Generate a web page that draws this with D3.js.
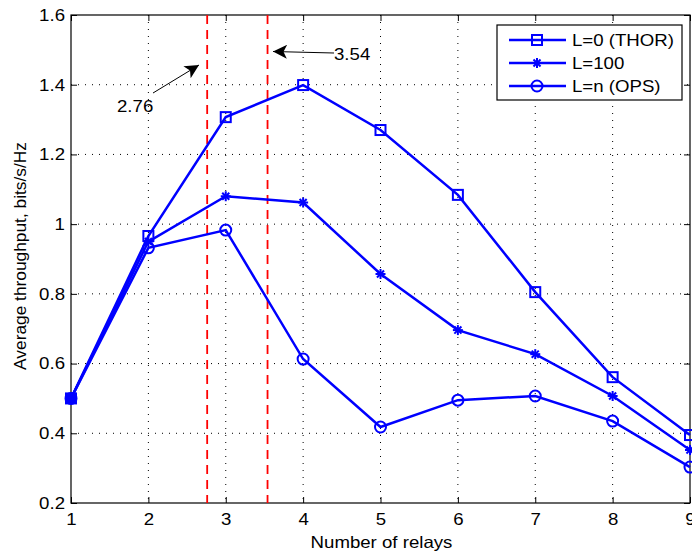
<!DOCTYPE html>
<html><head><meta charset="utf-8">
<script src="https://cdn.jsdelivr.net/npm/d3@7/dist/d3.min.js"></script>
<style>body{margin:0;background:#fff}svg{display:block}text{font-family:"Liberation Sans",Arial,sans-serif}</style>
</head><body>
<svg id="c" width="692" height="554"></svg>
<script>
const relays = [1,2,3,4,5,6,7,8,9];
const thor = [0.5,0.966,1.307,1.399,1.270,1.084,0.805,0.561,0.395];
const l100 = [0.5,0.950,1.080,1.062,0.857,0.696,0.627,0.507,0.352];
const ops  = [0.5,0.932,0.983,0.613,0.418,0.495,0.507,0.435,0.303];
const seriesNames = ["L=0 (THOR)","L=100","L=n (OPS)"];
const markers = ["square","star","circle"];
const xTicks = [1,2,3,4,5,6,7,8,9];
const yTicks = [0.2,0.4,0.6,0.8,1,1.2,1.4,1.6];
const vlines = [2.76,3.54];
const vlineLabels = ["2.76","3.54"];

const FS = 16.5, SX = 1.13;
const svg = d3.select("#c");
const L=71,R=690,T=15,B=503;
const x = d3.scaleLinear().domain([1,9]).range([L,R]);
const y = d3.scaleLinear().domain([0.2,1.6]).range([B,T]);

function stext(parent, tx, ty, str, anchor){
  return parent.append("text").attr("transform",`translate(${tx},${ty}) scale(${SX},1)`)
    .attr("text-anchor",anchor||"start").attr("font-size",FS).attr("fill","#000").text(str);
}

// grid
const g = svg.append("g");
g.selectAll(".gx").data(xTicks.slice(1,-1)).enter().append("line")
 .attr("x1",d=>x(d)).attr("x2",d=>x(d)).attr("y1",T).attr("y2",B)
 .attr("stroke","#000").attr("stroke-width",1).attr("stroke-dasharray","1,6");
g.selectAll(".gy").data(yTicks.slice(1,-1)).enter().append("line")
 .attr("y1",d=>y(d)).attr("y2",d=>y(d)).attr("x1",L).attr("x2",R)
 .attr("stroke","#000").attr("stroke-width",1).attr("stroke-dasharray","1,6");

// axes
const ax = svg.append("g").attr("transform",`translate(0,${B})`).call(d3.axisBottom(x).tickValues(xTicks).tickSize(-6).tickPadding(10).tickFormat(d3.format("d")));
const axT = svg.append("g").attr("transform",`translate(0,${T})`).call(d3.axisTop(x).tickValues(xTicks).tickSize(-6).tickFormat(""));
const ay = svg.append("g").attr("transform",`translate(${L},0)`).call(d3.axisLeft(y).tickValues(yTicks).tickSize(-6).tickPadding(6).tickFormat(d=>d===1?"1":d3.format(".1f")(d)));
const ayR = svg.append("g").attr("transform",`translate(${R},0)`).call(d3.axisRight(y).tickValues(yTicks).tickSize(-6).tickFormat(""));
[ax,axT,ay,ayR].forEach(a=>{a.select(".domain").remove();a.selectAll("line").attr("stroke","#000");a.selectAll("text").attr("font-size",FS).attr("fill","#000");});
ax.selectAll(".tick text").attr("transform",`scale(${SX},1)`);
ay.selectAll(".tick text").attr("x",0).attr("transform",`translate(-6,0) scale(${SX},1)`);
svg.append("rect").attr("x",L).attr("y",T).attr("width",R-L).attr("height",B-T).attr("fill","none").attr("stroke","#000").attr("stroke-width",1.2);

// red dashed lines
svg.selectAll(".vl").data(vlines).enter().append("line")
 .attr("x1",d=>x(d)).attr("x2",d=>x(d)).attr("y1",T).attr("y2",B)
 .attr("stroke","#ff0000").attr("stroke-width",1.8).attr("stroke-dasharray","9,6");

const blue="#0000ff";
function drawMarker(sel,type,cx,cy){
  if(type==="square") sel.append("rect").attr("x",cx-5).attr("y",cy-5).attr("width",10).attr("height",10).attr("fill","none").attr("stroke",blue).attr("stroke-width",2);
  else if(type==="circle") sel.append("circle").attr("cx",cx).attr("cy",cy).attr("r",5.5).attr("fill","none").attr("stroke",blue).attr("stroke-width",2);
  else {
    for(let k=0;k<4;k++){const a=k*Math.PI/4;sel.append("line").attr("x1",cx-5*Math.cos(a)).attr("y1",cy-5*Math.sin(a)).attr("x2",cx+5*Math.cos(a)).attr("y2",cy+5*Math.sin(a)).attr("stroke",blue).attr("stroke-width",2);}
  }
}
const line = d3.line().x((d,i)=>x(relays[i])).y(d=>y(d));
[thor,l100,ops].forEach((s,si)=>{
  const gg = svg.append("g");
  gg.append("path").datum(s).attr("d",line).attr("fill","none").attr("stroke",blue).attr("stroke-width",2.5);
  s.forEach((v,i)=>drawMarker(gg,markers[si],x(relays[i]),y(v)));
});
svg.append("circle").attr("cx",x(relays[0])).attr("cy",y(ops[0])).attr("r",6).attr("fill",blue);

// legend
const lg = svg.append("g");
lg.append("rect").attr("x",497).attr("y",25).attr("width",185).attr("height",75).attr("fill","#fff").attr("stroke","#000").attr("stroke-width",1.2);
seriesNames.forEach((n,i)=>{
  const yy=40+i*23;
  lg.append("line").attr("x1",509).attr("x2",566).attr("y1",yy).attr("y2",yy).attr("stroke",blue).attr("stroke-width",2.5);
  drawMarker(lg,markers[i],537,yy);
  stext(lg,572,yy+5.5,n);
});

// annotations
const defs = svg.append("defs");
defs.append("marker").attr("id","ah").attr("viewBox","0 0 10 10").attr("refX",10).attr("refY",5).attr("markerWidth",21).attr("markerHeight",14).attr("markerUnits","userSpaceOnUse").attr("orient","auto")
 .append("path").attr("d","M0,0 L10,5 L0,10 L2.5,5 Z").attr("fill","#000");
svg.append("line").attr("x1",153).attr("y1",93).attr("x2",199).attr("y2",65).attr("stroke","#000").attr("stroke-width",1).attr("marker-end","url(#ah)");
stext(svg,117,111.5,vlineLabels[0]);
svg.append("line").attr("x1",334).attr("y1",53).attr("x2",273).attr("y2",51.5).attr("stroke","#000").attr("stroke-width",1).attr("marker-end","url(#ah)");
stext(svg,334,60,vlineLabels[1]);

// axis labels
stext(svg,381.5,548,"Number of relays","middle");
svg.append("text").attr("transform",`translate(26,256) rotate(-90) scale(1.05,1)`).attr("text-anchor","middle").attr("font-size",FS).text("Average throughput, bits/s/Hz");
</script>
</body></html>
